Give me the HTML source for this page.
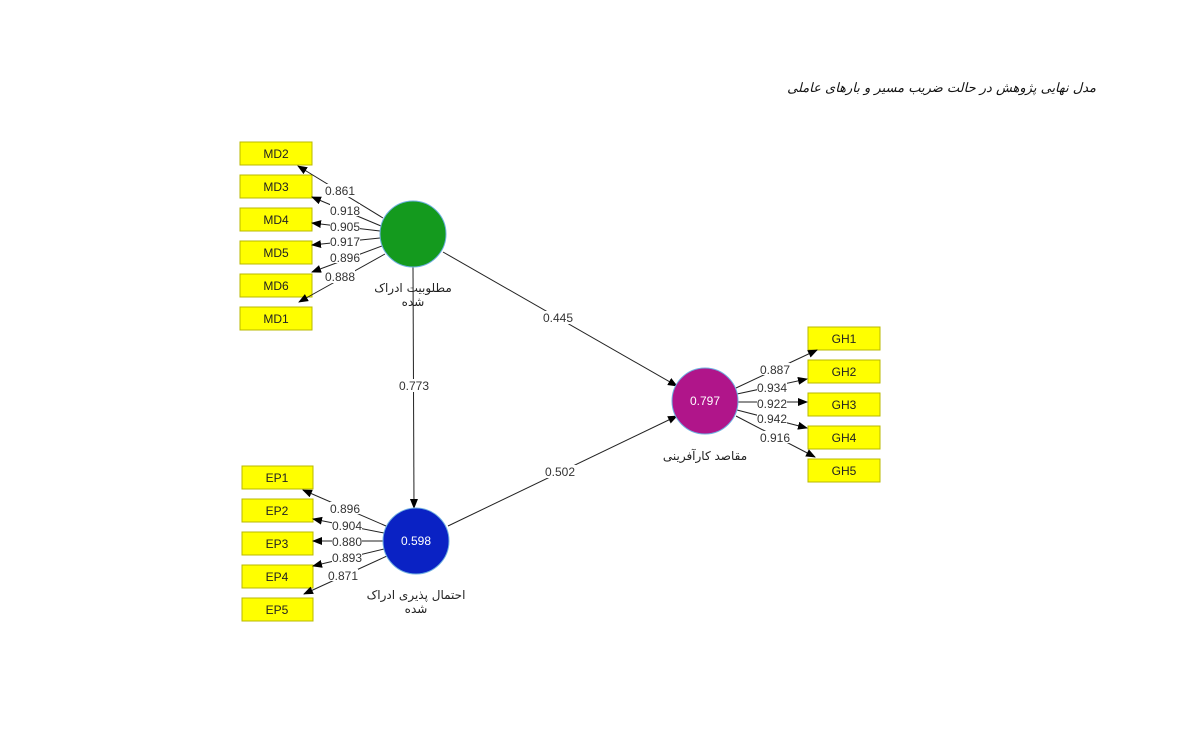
<!DOCTYPE html>
<html><head><meta charset="utf-8"><style>
html,body{margin:0;padding:0;background:#fff;}
svg{display:block}
text{font-family:"Liberation Sans","DejaVu Sans",sans-serif;font-size:12px;fill:#333}
.b{fill:#ffff00;stroke:#b8b800;stroke-width:1}
.bt{text-anchor:middle;fill:#222;font-size:12px}
.l{stroke:#222;stroke-width:1;fill:none;marker-end:url(#a)}
.lb{text-anchor:middle}
.fa{font-family:"DejaVu Sans","Noto Sans CJK SC",sans-serif;font-size:12px;text-anchor:middle;fill:#222}
</style></head><body>
<svg width="1182" height="749" viewBox="0 0 1182 749">
<defs><marker id="a" markerWidth="10" markerHeight="10" refX="9" refY="4" orient="auto" markerUnits="userSpaceOnUse"><path d="M0,0 L10,4 L0,8 z" fill="#000"/></marker></defs>
<text x="1096" y="92" text-anchor="end" style="font-family:'DejaVu Sans',sans-serif;font-size:13px;font-style:italic;fill:#111">مدل نهایی پژوهش در حالت ضریب مسیر و بارهای عاملی</text>

<!-- MD boxes -->
<g>
<rect class="b" x="240" y="142" width="72" height="23"/><text class="bt" x="276" y="158">MD2</text>
<rect class="b" x="240" y="175" width="72" height="23"/><text class="bt" x="276" y="191">MD3</text>
<rect class="b" x="240" y="208" width="72" height="23"/><text class="bt" x="276" y="224">MD4</text>
<rect class="b" x="240" y="241" width="72" height="23"/><text class="bt" x="276" y="257">MD5</text>
<rect class="b" x="240" y="274" width="72" height="23"/><text class="bt" x="276" y="290">MD6</text>
<rect class="b" x="240" y="307" width="72" height="23"/><text class="bt" x="276" y="323">MD1</text>
</g>
<line class="l" x1="383" y1="218" x2="298" y2="166"/>
<line class="l" x1="381" y1="226" x2="312" y2="197"/>
<line class="l" x1="380" y1="231" x2="312" y2="223"/>
<line class="l" x1="380" y1="238" x2="312" y2="245"/>
<line class="l" x1="382" y1="246" x2="312" y2="272"/>
<line class="l" x1="385" y1="254" x2="299" y2="302"/>
<g class="lb">
<rect x="325" y="184" width="30" height="13" fill="#fff"/><text class="lb" x="340" y="195">0.861</text>
<rect x="330" y="204" width="30" height="12" fill="#fff"/><text class="lb" x="345" y="215">0.918</text>
<rect x="330" y="220" width="30" height="12" fill="#fff"/><text class="lb" x="345" y="231">0.905</text>
<rect x="330" y="235" width="30" height="12" fill="#fff"/><text class="lb" x="345" y="246">0.917</text>
<rect x="330" y="251" width="30" height="12" fill="#fff"/><text class="lb" x="345" y="262">0.896</text>
<rect x="325" y="270" width="30" height="13" fill="#fff"/><text class="lb" x="340" y="281">0.888</text>
</g>

<!-- GH boxes -->
<rect class="b" x="808" y="327" width="72" height="23"/><text class="bt" x="844" y="343">GH1</text>
<rect class="b" x="808" y="360" width="72" height="23"/><text class="bt" x="844" y="376">GH2</text>
<rect class="b" x="808" y="393" width="72" height="23"/><text class="bt" x="844" y="409">GH3</text>
<rect class="b" x="808" y="426" width="72" height="23"/><text class="bt" x="844" y="442">GH4</text>
<rect class="b" x="808" y="459" width="72" height="23"/><text class="bt" x="844" y="475">GH5</text>
<line class="l" x1="736" y1="388" x2="817" y2="350"/>
<line class="l" x1="737" y1="394" x2="807" y2="379"/>
<line class="l" x1="738" y1="402" x2="807" y2="402"/>
<line class="l" x1="737" y1="410" x2="807" y2="428"/>
<line class="l" x1="736" y1="416" x2="815" y2="457"/>
<rect x="760" y="363" width="30" height="12" fill="#fff"/><text class="lb" x="775" y="374">0.887</text>
<rect x="757" y="381" width="30" height="12" fill="#fff"/><text class="lb" x="772" y="392">0.934</text>
<rect x="757" y="397" width="30" height="12" fill="#fff"/><text class="lb" x="772" y="408">0.922</text>
<rect x="757" y="412" width="30" height="12" fill="#fff"/><text class="lb" x="772" y="423">0.942</text>
<rect x="760" y="431" width="30" height="12" fill="#fff"/><text class="lb" x="775" y="442">0.916</text>

<!-- EP boxes -->
<rect class="b" x="242" y="466" width="71" height="23"/><text class="bt" x="277" y="482">EP1</text>
<rect class="b" x="242" y="499" width="71" height="23"/><text class="bt" x="277" y="515">EP2</text>
<rect class="b" x="242" y="532" width="71" height="23"/><text class="bt" x="277" y="548">EP3</text>
<rect class="b" x="242" y="565" width="71" height="23"/><text class="bt" x="277" y="581">EP4</text>
<rect class="b" x="242" y="598" width="71" height="23"/><text class="bt" x="277" y="614">EP5</text>
<line class="l" x1="386" y1="526" x2="303" y2="490"/>
<line class="l" x1="384" y1="533" x2="313" y2="519"/>
<line class="l" x1="383" y1="541" x2="313" y2="541"/>
<line class="l" x1="384" y1="549" x2="313" y2="566"/>
<line class="l" x1="387" y1="556" x2="304" y2="594"/>
<rect x="330" y="502" width="30" height="12" fill="#fff"/><text class="lb" x="345" y="513">0.896</text>
<rect x="332" y="519" width="30" height="12" fill="#fff"/><text class="lb" x="347" y="530">0.904</text>
<rect x="332" y="535" width="30" height="12" fill="#fff"/><text class="lb" x="347" y="546">0.880</text>
<rect x="332" y="551" width="30" height="12" fill="#fff"/><text class="lb" x="347" y="562">0.893</text>
<rect x="328" y="569" width="30" height="12" fill="#fff"/><text class="lb" x="343" y="580">0.871</text>

<!-- structural paths -->
<line class="l" x1="443" y1="252" x2="677" y2="386"/>
<line class="l" x1="413" y1="267" x2="414" y2="508"/>
<line class="l" x1="448" y1="526" x2="677" y2="416"/>
<rect x="542" y="311" width="32" height="13" fill="#fff"/><text class="lb" x="558" y="322">0.445</text>
<rect x="398" y="379" width="32" height="13" fill="#fff"/><text class="lb" x="414" y="390">0.773</text>
<rect x="544" y="465" width="32" height="13" fill="#fff"/><text class="lb" x="560" y="476">0.502</text>

<!-- circles -->
<circle cx="413" cy="234" r="33" fill="#149a1e" stroke="#6fb0e0" stroke-width="1"/>
<text class="fa" x="413" y="292">مطلوبیت ادراک</text>
<text class="fa" x="413" y="306">شده</text>

<circle cx="705" cy="401" r="33" fill="#b0158a" stroke="#6fb0e0" stroke-width="1"/>
<text x="705" y="405" text-anchor="middle" style="fill:#fff;font-size:12px">0.797</text>
<text class="fa" x="705" y="460">مقاصد کارآفرینی</text>

<circle cx="416" cy="541" r="33" fill="#0a22c4" stroke="#6fb0e0" stroke-width="1"/>
<text x="416" y="545" text-anchor="middle" style="fill:#fff;font-size:12px">0.598</text>
<text class="fa" x="416" y="599">احتمال پذیری ادراک</text>
<text class="fa" x="416" y="613">شده</text>
</svg>
</body></html>
